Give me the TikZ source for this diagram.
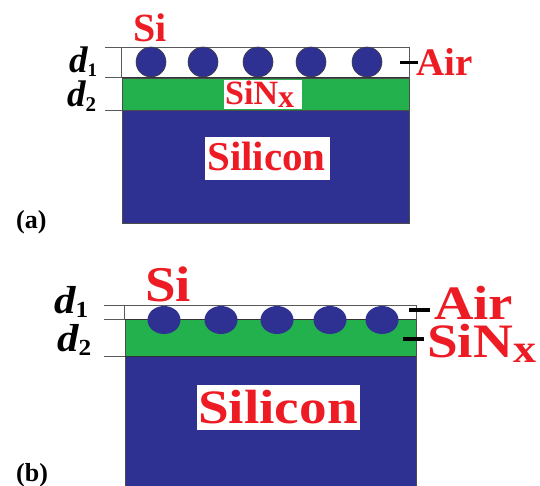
\documentclass[tikz,border=0pt]{standalone}
\usepackage{fontspec}
\setmainfont{Liberation Serif}
\definecolor{sblue}{HTML}{2E3192}
\definecolor{sgreen}{HTML}{23B14D}
\definecolor{sred}{HTML}{ED1C24}
\newcommand{\fs}[1]{\fontsize{#1}{#1}\selectfont\bfseries}
\tikzset{
  x=1pt,y=-1pt,
  lbl/.style={inner sep=0pt,anchor=base west,text=sred},
  dlbl/.style={inner sep=0pt,anchor=base west,text=black},
  whitebox/.style={fill=white,draw=none},
  layer/.style={draw=black!70,line width=0.8pt},
  guide/.style={draw=black!65,line width=0.8pt},
  tickmark/.style={draw=black,line width=3.4pt},
  dot/.style={fill=sblue,draw=black!75,line width=0.6pt},
  softdot/.style={fill=sblue,draw=none},
}
\begin{document}
\begin{tikzpicture}
\useasboundingbox (0,0) rectangle (540,486);
\clip (0,0) rectangle (540,486);
% panel a
\draw[guide,fill=white] (121,47.5) rectangle (409,77.5);
\draw[layer,fill=sgreen] (122,78) rectangle (409,110);
\draw[layer,fill=sblue] (122,110.5) rectangle (409,223);
\draw[line width=1pt,black!80] (122,77.5) -- (409,77.5);
\foreach \c in {151,203,258,311,367}{\draw[dot] (\c,62) circle (15);}
\draw[guide] (105,47.5) -- (121,47.5);
\draw[guide] (105,77.5) -- (122,77.5);
\draw[guide] (105,110.5) -- (122,110.5);
\coordinate (aT1) at (400,62.5);
\coordinate (aT2) at (418,62.5);
\draw[tickmark] (aT1) -- (aT2);
\fill[whitebox] (224,80) rectangle (302,109);
\fill[whitebox] (205,137) rectangle (330,180);
\node[lbl] (aSi) at (133,42) {\fs{40}Si};
\node[lbl] (aAir) at (416,76) {\fs{39}Air};
\node[lbl] (aSiN) at (225,105) {\fs{34}SiN\raisebox{-3pt}{\fs{32}x}};
\node[lbl] (aSilicon) at (207,171) {\fs{41}Silicon};
\node[dlbl] (ad1) at (69,73) {\fs{37}\itshape d\raisebox{-4pt}{\fs{19}\upshape 1}};
\node[dlbl] (ad2) at (67,107) {\fs{37}\itshape d\raisebox{-5pt}{\fs{21}\upshape 2}};
\node[dlbl] (alab) at (16,229) {\fs{26}(a)};
% panel b
\draw[guide,fill=white] (124,305) rectangle (416,319);
\draw[layer,fill=sgreen] (125,319) rectangle (416,356);
\fill[sblue] (125,356) rectangle (416,490);
\draw[line width=0.8pt,black!70] (125,356) -- (125,490) (416,356) -- (416,490);
\draw[line width=1pt,black!80] (125,319) -- (416,319);
\draw[line width=1pt,black!80] (125,356) -- (416,356);
\foreach \c in {164,221,277,330,382}{\fill[softdot] (\c,320) ellipse (16.5 and 14);}
\draw[guide] (104,305) -- (124,305);
\draw[guide] (104,319) -- (125,319);
\draw[guide] (104,356) -- (125,356);
\coordinate (bT1) at (409,310);
\coordinate (bT2) at (430,310);
\coordinate (bT3) at (403,339);
\coordinate (bT4) at (424,339);
\draw[tickmark] (bT1) -- (bT2);
\draw[tickmark] (bT3) -- (bT4);
\fill[whitebox] (197,385) rectangle (360,430);
\node[lbl,xscale=1.1] (bSi) at (145,301) {\fs{50}Si};
\node[lbl,xscale=1.14] (bAir) at (434,319) {\fs{48}Air};
\node[lbl,xscale=1.15] (bSiN) at (427,357) {\fs{48}SiN\raisebox{-5pt}{\fs{40}x}};
\node[lbl,xscale=1.15] (bSilicon) at (198,423) {\fs{48}Silicon};
\node[dlbl,xscale=1.1] (bd1) at (54,313) {\fs{39}\itshape d\raisebox{-4pt}{\fs{23}\upshape 1}};
\node[dlbl,xscale=1.1] (bd2) at (57,351) {\fs{39}\itshape d\raisebox{-4pt}{\fs{23}\upshape 2}};
\node[dlbl] (blab) at (16,481) {\fs{26}(b)};
\end{tikzpicture}
\end{document}
